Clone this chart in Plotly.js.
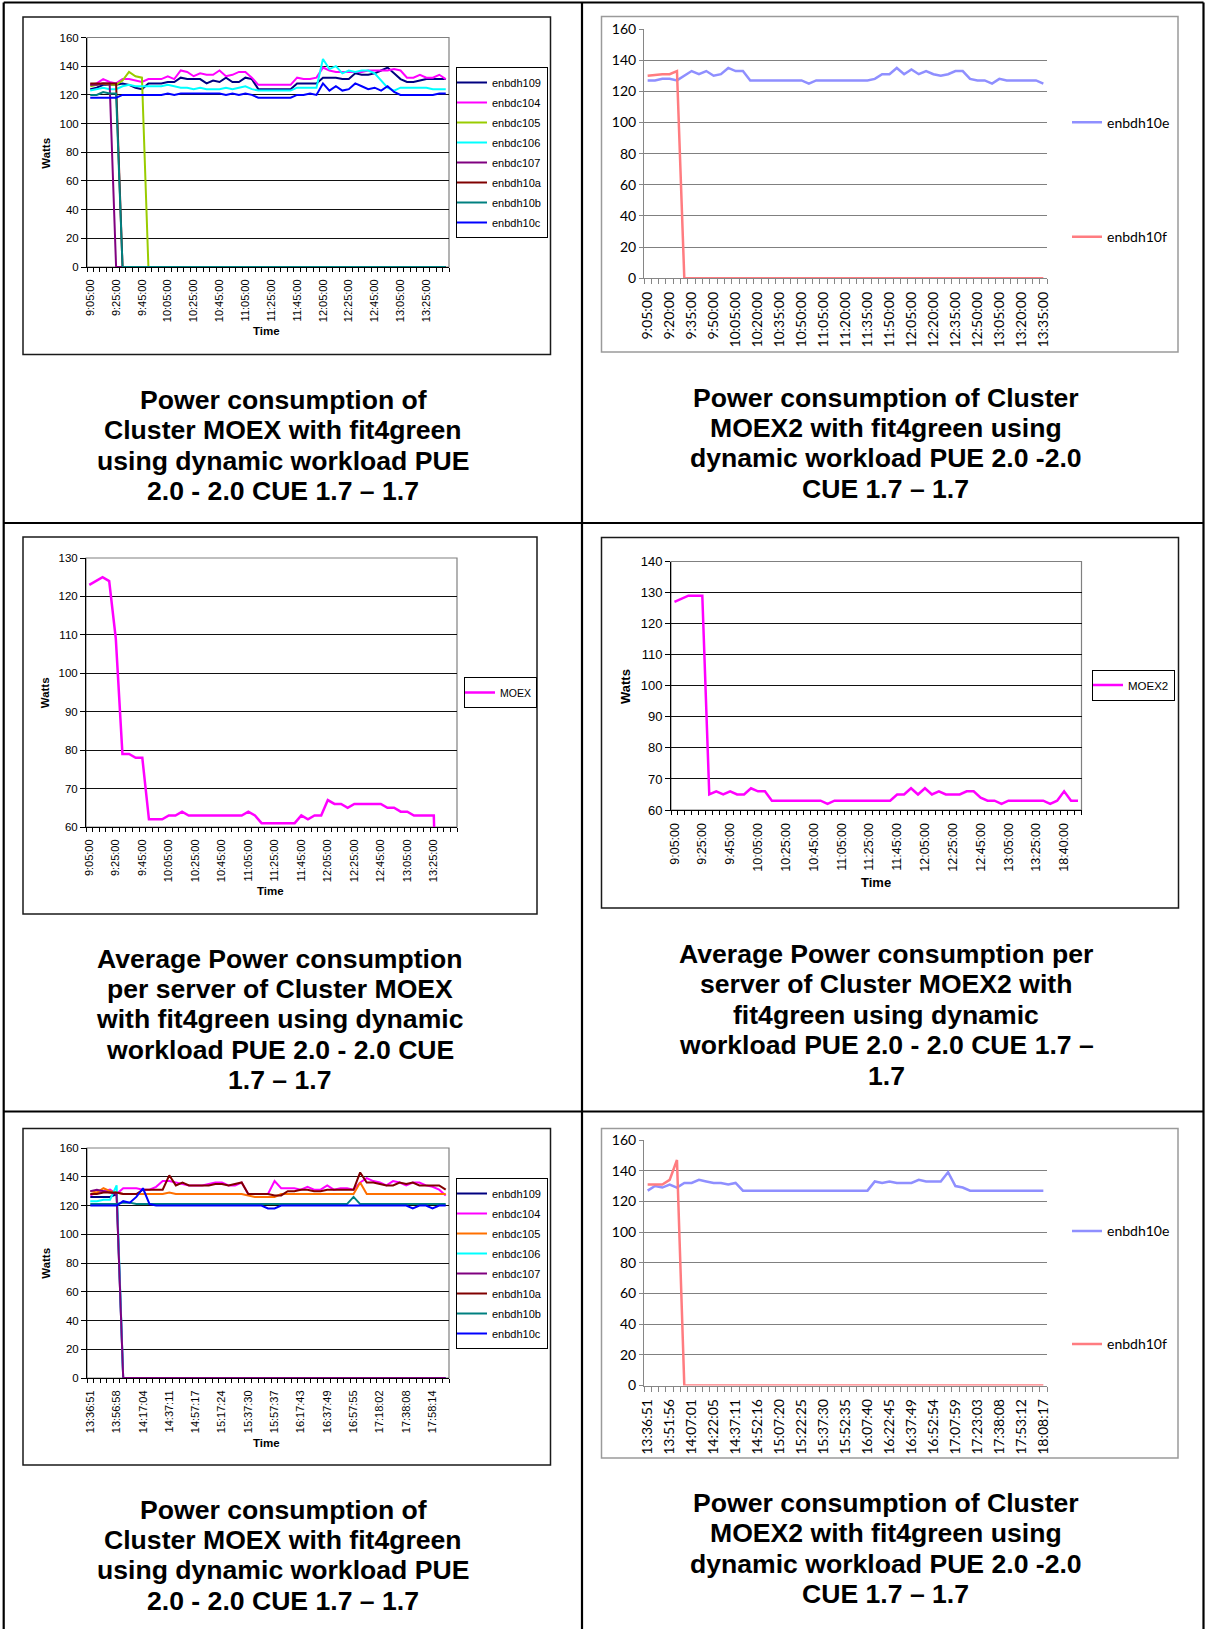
<!DOCTYPE html>
<html>
<head>
<meta charset="utf-8">
<script src="https://cdn.plot.ly/plotly-3.0.1.min.js"></script>
<style>
  html, body { margin: 0; padding: 0; background: #ffffff; }
  #fig { width: 1205px; height: 1629px; }
</style>
</head>
<body>
<div id="fig"></div>
<script>
// ---------------------------------------------------------------
// Data: power draw in Watts, fit4green dynamic workload runs
// ---------------------------------------------------------------

// Morning run, 5-minute samples (labels shown every 20 min)
const run1Ticks = ['9:05:00','9:25:00','9:45:00','10:05:00','10:25:00','10:45:00','11:05:00',
  '11:25:00','11:45:00','12:05:00','12:25:00','12:45:00','13:05:00','13:25:00'];
// Morning run, MOEX2 (labels shown every 15 min)
const run1Ticks15 = ['9:05:00','9:20:00','9:35:00','9:50:00','10:05:00','10:20:00','10:35:00',
  '10:50:00','11:05:00','11:20:00','11:35:00','11:50:00','12:05:00','12:20:00','12:35:00',
  '12:50:00','13:05:00','13:20:00','13:35:00'];
// Average per server of MOEX2 (labels every 20 min)
const avg2Ticks = ['9:05:00','9:25:00','9:45:00','10:05:00','10:25:00','10:45:00','11:05:00',
  '11:25:00','11:45:00','12:05:00','12:25:00','12:45:00','13:05:00','13:25:00','18:40:00'];
// Afternoon run (labels every 4th sample)
const run2Ticks = ['13:36:51','13:56:58','14:17:04','14:37:11','14:57:17','15:17:24','15:37:30',
  '15:57:37','16:17:43','16:37:49','16:57:55','17:18:02','17:38:08','17:58:14'];
// Afternoon run, MOEX2 (labels every 3rd sample)
const run2Ticks3 = ['13:36:51','13:51:56','14:07:01','14:22:05','14:37:11','14:52:16','15:07:20',
  '15:22:25','15:37:30','15:52:35','16:07:40','16:22:45','16:37:49','16:52:54','17:07:59',
  '17:23:03','17:38:08','17:53:12','18:08:17'];

const moexServers = ['enbdh109','enbdc104','enbdc105','enbdc106','enbdc107','enbdh10a','enbdh10b','enbdh10c'];
const moex2Servers = ['enbdh10e','enbdh10f'];

// Cluster MOEX, morning run (56 samples)
const r1_enbdh109 = [124,125,127,127,127,128,127,125,124,128,128,128,129,129,132,131,131,131,128,130,
  129,132,129,129,132,131,124,124,124,124,124,124,128,128,128,128,132,132,132,131,
  131,135,134,134,135,137,139,135,131,129,129,130,131,131,131,131];
const r1_enbdc104 = [127,128,131,129,128,131,131,130,129,131,131,131,133,131,137,136,133,135,134,134,
  137,133,134,136,136,132,127,127,127,127,127,127,132,131,131,132,139,137,136,136,
  136,136,136,137,137,137,137,138,137,132,132,134,132,132,134,131];
const r1_enbdc105 = [126,127,128,127,127,130,136,133,132,0,0,0,0,0,0,0,0,0,0,0,
  0,0,0,0,0,0,0,0,0,0,0,0,0,0,0,0,0,0,0,0,
  0,0,0,0,0,0,0,0,0,0,0,0,0,0,0,0];
const r1_enbdc106 = [123,124,125,124,124,126,127,126,126,126,126,126,127,126,125,125,124,125,124,124,
  124,125,124,125,126,124,123,123,123,123,123,123,125,125,125,125,145,138,140,135,
  137,136,137,137,135,130,125,123,125,125,125,125,125,124,124,124];
const r1_enbdc107 = [127,127,128,128,0,0,0,0,0,0,0,0,0,0,0,0,0,0,0,0,
  0,0,0,0,0,0,0,0,0,0,0,0,0,0,0,0,0,0,0,0,
  0,0,0,0,0,0,0,0,0,0,0,0,0,0,0,0];
const r1_enbdh10a = [128,128,128,128,128,0,0,0,0,0,0,0,0,0,0,0,0,0,0,0,
  0,0,0,0,0,0,0,0,0,0,0,0,0,0,0,0,0,0,0,0,
  0,0,0,0,0,0,0,0,0,0,0,0,0,0,0,0];
const r1_enbdh10b = [120,120,122,121,121,0,0,0,0,0,0,0,0,0,0,0,0,0,0,0,
  0,0,0,0,0,0,0,0,0,0,0,0,0,0,0,0,0,0,0,0,
  0,0,0,0,0,0,0,0,0,0,0,0,0,0,0,0];
const r1_enbdh10c = [118,118,118,118,118,120,120,120,120,120,120,120,121,120,121,121,121,121,121,121,
  121,120,121,120,121,120,118,118,118,118,118,118,120,120,121,120,128,123,126,123,
  124,128,126,124,125,123,126,122,120,120,120,120,120,120,121,121];

// Cluster MOEX2, morning run (55 samples)
const r1_enbdh10e = [127,127,128,128,127,130,133,131,133,130,131,135,133,133,127,127,127,127,127,127,
  127,127,125,127,127,127,127,127,127,127,127,128,131,131,135,131,134,131,133,131,
  130,131,133,133,128,127,127,125,128,127,127,127,127,127,125];
const r1_enbdh10f = [130,130.5,131,131,133,0,0,0,0,0,0,0,0,0,0,0,0,0,0,0,
  0,0,0,0,0,0,0,0,0,0,0,0,0,0,0,0,0,0,0,0,
  0,0,0,0,0,0,0,0,0,0,0,0,0,0,0];

// Average per server, MOEX (axis holds 56 samples)
const avgMOEX = [123,124,125,124,109,79,79,78,78,62,62,62,63,63,64,63,63,63,63,63,
  63,63,63,63,64,63,61,61,61,61,61,61,63,62,63,63,67,66,66,65,
  66,66,66,66,66,65,65,64,64,63,63,63,63,0];
// Average per server, MOEX2 (59 samples)
const avgMOEX2 = [127,128,129,129,129,65,66,65,66,65,65,67,66,66,63,63,63,63,63,63,
  63,63,62,63,63,63,63,63,63,63,63,63,65,65,67,65,67,65,66,65,
  65,65,66,66,64,63,63,62,63,63,63,63,63,63,62,63,66,63,63];

// Cluster MOEX, afternoon run (55 samples)
const r2_enbdh109 = [126,126,126,126,128,0,0,0,0,0,0,0,0,0,0,0,0,0,0,0,
  0,0,0,0,0,0,0,0,0,0,0,0,0,0,0,0,0,0,0,0,
  0,0,0,0,0,0,0,0,0,0,0,0,0,0,0];
const r2_enbdc104 = [127,129,130,131,128,132,132,132,131,131,133,137,137,136,135,134,134,134,135,136,
  136,134,134,136,128,128,128,128,137,132,132,132,131,133,131,131,134,131,132,132,
  131,136,139,137,136,134,137,136,134,136,136,134,133,131,127];
const r2_enbdc105 = [130,129,132,130,129,128,128,128,128,128,128,128,129,128,128,128,128,128,128,128,
  128,128,128,128,127,126,126,126,126,128,128,128,128,128,128,128,128,128,128,128,
  128,136,128,128,128,128,128,128,128,128,128,128,128,128,128];
const r2_enbdc106 = [123,123,124,124,134,0,0,0,0,0,0,0,0,0,0,0,0,0,0,0,
  0,0,0,0,0,0,0,0,0,0,0,0,0,0,0,0,0,0,0,0,
  0,0,0,0,0,0,0,0,0,0,0,0,0,0,0];
const r2_enbdc107 = [130,131,130,129,128,0,0,0,0,0,0,0,0,0,0,0,0,0,0,0,
  0,0,0,0,0,0,0,0,0,0,0,0,0,0,0,0,0,0,0,0,
  0,0,0,0,0,0,0,0,0,0,0,0,0,0,0];
const r2_enbdh10a = [128,128,129,129,129,128,128,128,131,131,131,131,141,134,136,134,134,134,134,135,
  135,134,135,136,128,128,128,128,127,127,130,130,131,131,130,130,131,131,131,131,
  131,143,136,136,135,134,134,136,135,136,134,134,134,134,131];
const r2_enbdh10b = [121,121,121,121,121,122,122,121,121,121,121,121,121,121,121,121,121,121,121,121,
  121,121,121,121,121,121,121,121,121,121,121,121,121,121,121,121,121,121,121,121,
  126,121,121,121,121,121,121,121,121,121,121,121,121,121,121];
const r2_enbdh10c = [120,120,120,120,120,123,122,126,132,121,120,120,120,120,120,120,120,120,120,120,
  120,120,120,120,120,120,120,118,118,120,120,120,120,120,120,120,120,120,120,120,
  120,120,120,120,120,120,120,120,120,118,120,120,118,120,120];

// Cluster MOEX2, afternoon run (55 samples)
const r2_enbdh10e = [127,130,129,131,129,132,132,134,133,132,132,131,132,127,127,127,127,127,127,127,
  127,127,127,127,127,127,127,127,127,127,127,133,132,133,132,132,132,134,133,133,
  133,139,130,129,127,127,127,127,127,127,127,127,127,127,127];
const r2_enbdh10f = [131,131,131,134,147,0,0,0,0,0,0,0,0,0,0,0,0,0,0,0,
  0,0,0,0,0,0,0,0,0,0,0,0,0,0,0,0,0,0,0,0,
  0,0,0,0,0,0,0,0,0,0,0,0,0,0,0];

// Caption lines under each chart
const caption1 = ['Power consumption of','Cluster MOEX with fit4green','using dynamic workload PUE','2.0 - 2.0 CUE 1.7 \u2013 1.7'];
const caption2 = ['Power consumption of Cluster','MOEX2 with fit4green using','dynamic workload PUE 2.0 -2.0','CUE 1.7 \u2013 1.7'];
const caption3 = ['Average Power consumption','per server of Cluster MOEX','with fit4green using dynamic','workload PUE 2.0 - 2.0 CUE','1.7 \u2013 1.7'];
const caption4 = ['Average Power consumption per','server of Cluster MOEX2 with','fit4green using dynamic','workload PUE 2.0 - 2.0 CUE 1.7 \u2013','1.7'];

// ---------------------------------------------------------------
// Styling and page layout (pixel boxes on a 1205 x 1629 page)
// ---------------------------------------------------------------
const W = 1205, H = 1629;
const ARIAL = '"Liberation Sans", Arial, Helvetica, sans-serif';
const LATO = 'Lato, "Open Sans", sans-serif';
const px = v => v / W;
const py = v => 1 - v / H;

const colors03 = {
  enbdh109: '#000080', enbdc104: '#FF00FF', enbdc105: '#99CC00', enbdc106: '#00FFFF',
  enbdc107: '#800080', enbdh10a: '#800000', enbdh10b: '#008080', enbdh10c: '#0000FF'
};
const colors03b = Object.assign({}, colors03, { enbdc105: '#FF7000' });
const colors07 = { enbdh10e: '#8F8FFF', enbdh10f: '#FF7C80' };

const run1Series = [r1_enbdh109, r1_enbdc104, r1_enbdc105, r1_enbdc106, r1_enbdc107, r1_enbdh10a, r1_enbdh10b, r1_enbdh10c];
const run2Series = [r2_enbdh109, r2_enbdc104, r2_enbdc105, r2_enbdc106, r2_enbdc107, r2_enbdh10a, r2_enbdh10b, r2_enbdh10c];

const panels = [
  { style: 'xl03', frame: [23, 550.5, 17, 354.5], plot: [87, 449, 37.5, 267],
    yRange: [0, 160], yStep: 20, nCats: 56, ticks: run1Ticks, tickStep: 4, tickSize: 11,
    series: moexServers.map((n, i) => ({ name: n, y: run1Series[i], color: colors03[n] })), lw: 2,
    legend: { x: 456, y: 67, size: 11, gap: 1, border: true, indent: -5 },
    watts: [45.8, 153], time: [266, 331.5], titleSize: 11.5 },
  { style: 'xl07', frame: [601.5, 1178, 16.6, 352], plot: [644, 1047, 29, 278.3],
    yRange: [0, 160], yStep: 20, nCats: 55, ticks: run1Ticks15, tickStep: 3, tickSize: 14,
    series: [{ name: moex2Servers[0], y: r1_enbdh10e, color: colors07.enbdh10e },
             { name: moex2Servers[1], y: r1_enbdh10f, color: colors07.enbdh10f }], lw: 2.5,
    legend: { x: 1067, y: 106.7, size: 14, gap: 93.2, border: false, indent: 0 } },
  { style: 'xl03', frame: [23, 537, 537, 914], plot: [86, 457, 558, 827],
    yRange: [60, 130], yStep: 10, nCats: 56, ticks: run1Ticks, tickStep: 4, tickSize: 11,
    series: [{ name: 'MOEX', y: avgMOEX, color: '#FF00FF' }], lw: 2.5,
    legend: { x: 464, y: 677, size: 10.5, gap: 0, border: true, indent: -5 },
    watts: [45.3, 693], time: [270.7, 891], titleSize: 11.5 },
  { style: 'xl03', frame: [601.5, 1178.5, 537.5, 908], plot: [671, 1081.5, 561.5, 810],
    yRange: [60, 140], yStep: 10, nCats: 59, ticks: avg2Ticks, tickStep: 4, tickSize: 12.5,
    series: [{ name: 'MOEX2', y: avgMOEX2, color: '#FF00FF' }], lw: 2.5,
    legend: { x: 1092, y: 669.5, size: 11.5, gap: 0, border: true, indent: -5 },
    watts: [626, 687], time: [876, 883], titleSize: 13 },
  { style: 'xl03', frame: [23, 550.5, 1128.5, 1465], plot: [87, 449, 1148, 1378],
    yRange: [0, 160], yStep: 20, nCats: 55, ticks: run2Ticks, tickStep: 4, tickSize: 11,
    series: moexServers.map((n, i) => ({ name: n, y: run2Series[i], color: colors03b[n] })), lw: 2,
    legend: { x: 456, y: 1178, size: 11, gap: 1, border: true, indent: -5 },
    watts: [45.8, 1263], time: [266, 1443], titleSize: 11.5 },
  { style: 'xl07', frame: [601.5, 1178, 1128.5, 1458], plot: [644, 1047, 1140, 1385.5],
    yRange: [0, 160], yStep: 20, nCats: 55, ticks: run2Ticks3, tickStep: 3, tickSize: 14,
    series: [{ name: moex2Servers[0], y: r2_enbdh10e, color: colors07.enbdh10e },
             { name: moex2Servers[1], y: r2_enbdh10f, color: colors07.enbdh10f }], lw: 2.5,
    legend: { x: 1067, y: 1215.4, size: 14, gap: 91.8, border: false, indent: 0 } }
];

// caption line centres: x centre and first-line y, then a fixed line pitch
const CAPTION_PITCH = 30.4;
const captions = [
  { lines: caption1, cx: 283, y0: 400 },
  { lines: caption2, cx: 885.5, y0: 397.5 },
  { lines: caption3, cx: 280, y0: 958.5 },
  { lines: caption4, cx: 886, y0: 954 },
  { lines: caption1, cx: 283, y0: 1509.5 },
  { lines: caption2, cx: 885.5, y0: 1503 }
];

const traces = [];
const shapes = [];
const annotations = [];
const layout = {
  width: W, height: H,
  margin: { l: 0, r: 0, t: 0, b: 0 },
  paper_bgcolor: '#ffffff', plot_bgcolor: 'rgba(0,0,0,0)',
  showlegend: true, hovermode: false
};

// Table grid around the six cells
const tableLine = { color: '#000000', width: 2.2 };
[[3.7, 2.5, 1203.5, 2.5], [3.7, 523, 1203.5, 523], [3.7, 1111.5, 1203.5, 1111.5],
 [3.7, 2.5, 3.7, H], [582, 2.5, 582, H], [1203.5, 2.5, 1203.5, H]].forEach(s => {
  shapes.push({ type: 'line', xref: 'paper', yref: 'paper', x0: px(s[0]), y0: py(s[1]), x1: px(s[2]), y1: py(s[3]),
    line: tableLine, layer: 'below' });
});

panels.forEach((p, idx) => {
  const k = idx + 1;
  const xid = k === 1 ? 'x' : 'x' + k;
  const yid = k === 1 ? 'y' : 'y' + k;
  const lid = k === 1 ? 'legend' : 'legend' + k;
  const xl07 = p.style === 'xl07';
  const axisColor = xl07 ? '#868686' : '#000000';
  const font = xl07 ? LATO : ARIAL;

  // chart area border
  shapes.push({ type: 'rect', xref: 'paper', yref: 'paper',
    x0: px(p.frame[0]), x1: px(p.frame[1]), y0: py(p.frame[3]), y1: py(p.frame[2]),
    line: { color: xl07 ? '#9a9a9a' : '#1a1a1a', width: 1.5 }, fillcolor: 'rgba(0,0,0,0)', layer: 'below' });
  // plot area border
  if (!xl07) {
    shapes.push({ type: 'rect', xref: 'paper', yref: 'paper',
      x0: px(p.plot[0]), x1: px(p.plot[1]), y0: py(p.plot[3]), y1: py(p.plot[2]),
      line: { color: '#808080', width: 1.2 }, fillcolor: 'rgba(0,0,0,0)', layer: 'below' });
  }

  layout[k === 1 ? 'xaxis' : 'xaxis' + k] = {
    domain: [px(p.plot[0]), px(p.plot[1])], anchor: yid, type: 'linear',
    range: [-0.5, p.nCats - 0.5],
    tickmode: 'array', tickvals: p.ticks.map((_, i) => i * p.tickStep), ticktext: p.ticks,
    tickangle: -90, ticks: 'outside', ticklen: 7, tickcolor: 'rgba(0,0,0,0)',
    tickfont: { family: font, size: p.tickSize, color: '#000000' },
    minor: { tickmode: 'linear', tick0: -0.5, dtick: 1, ticks: 'outside', ticklen: xl07 ? 5 : 4,
      tickwidth: 1, tickcolor: axisColor, showgrid: false },
    showgrid: false, zeroline: false, showline: true, linecolor: axisColor, linewidth: 1,
    fixedrange: true
  };
  layout[k === 1 ? 'yaxis' : 'yaxis' + k] = {
    domain: [py(p.plot[3]), py(p.plot[2])], anchor: xid,
    range: p.yRange, tickmode: 'linear', tick0: p.yRange[0], dtick: p.yStep,
    ticks: 'outside', ticklen: xl07 ? 4 : 5, tickwidth: 1, tickcolor: axisColor,
    tickfont: { family: font, size: xl07 ? p.tickSize : p.tickSize + 0.5, color: '#000000' },
    showgrid: true, gridcolor: xl07 ? '#808080' : '#111111', gridwidth: 1,
    zeroline: false, showline: true, linecolor: axisColor, linewidth: 1, fixedrange: true
  };

  p.series.forEach(s => {
    traces.push({
      type: 'scatter', mode: 'lines', name: s.name,
      x: s.y.map((_, i) => i), y: s.y,
      xaxis: xid, yaxis: yid,
      line: { color: s.color, width: p.lw },
      legend: lid, legendgroup: lid + '-' + s.name,
      hoverinfo: 'skip'
    });
  });

  layout[lid] = {
    x: px(p.legend.x), y: py(p.legend.y), xref: 'paper', yref: 'paper',
    xanchor: 'left', yanchor: 'top', orientation: 'v', traceorder: 'grouped',
    tracegroupgap: p.legend.gap, indentation: p.legend.indent,
    bgcolor: '#ffffff', bordercolor: '#000000', borderwidth: p.legend.border ? 1 : 0,
    font: { family: font, size: p.legend.size, color: '#000000' }
  };

  if (p.watts) {
    annotations.push({ xref: 'paper', yref: 'paper', x: px(p.watts[0]), y: py(p.watts[1]),
      text: '<b>Watts</b>', textangle: -90, showarrow: false, xanchor: 'center', yanchor: 'middle',
      font: { family: ARIAL, size: p.titleSize, color: '#000000' } });
    annotations.push({ xref: 'paper', yref: 'paper', x: px(p.time[0]), y: py(p.time[1]),
      text: '<b>Time</b>', showarrow: false, xanchor: 'center', yanchor: 'middle',
      font: { family: ARIAL, size: p.titleSize, color: '#000000' } });
  }
});

captions.forEach(c => {
  c.lines.forEach((line, i) => {
    annotations.push({ xref: 'paper', yref: 'paper', x: px(c.cx), y: py(c.y0 + i * CAPTION_PITCH),
      text: '<b>' + line + '</b>', showarrow: false, xanchor: 'center', yanchor: 'middle',
      font: { family: ARIAL, size: 26.6, color: '#000000' } });
  });
});

layout.shapes = shapes;
layout.annotations = annotations;

Plotly.newPlot('fig', traces, layout, { staticPlot: true, displayModeBar: false });
</script>
</body>
</html>
